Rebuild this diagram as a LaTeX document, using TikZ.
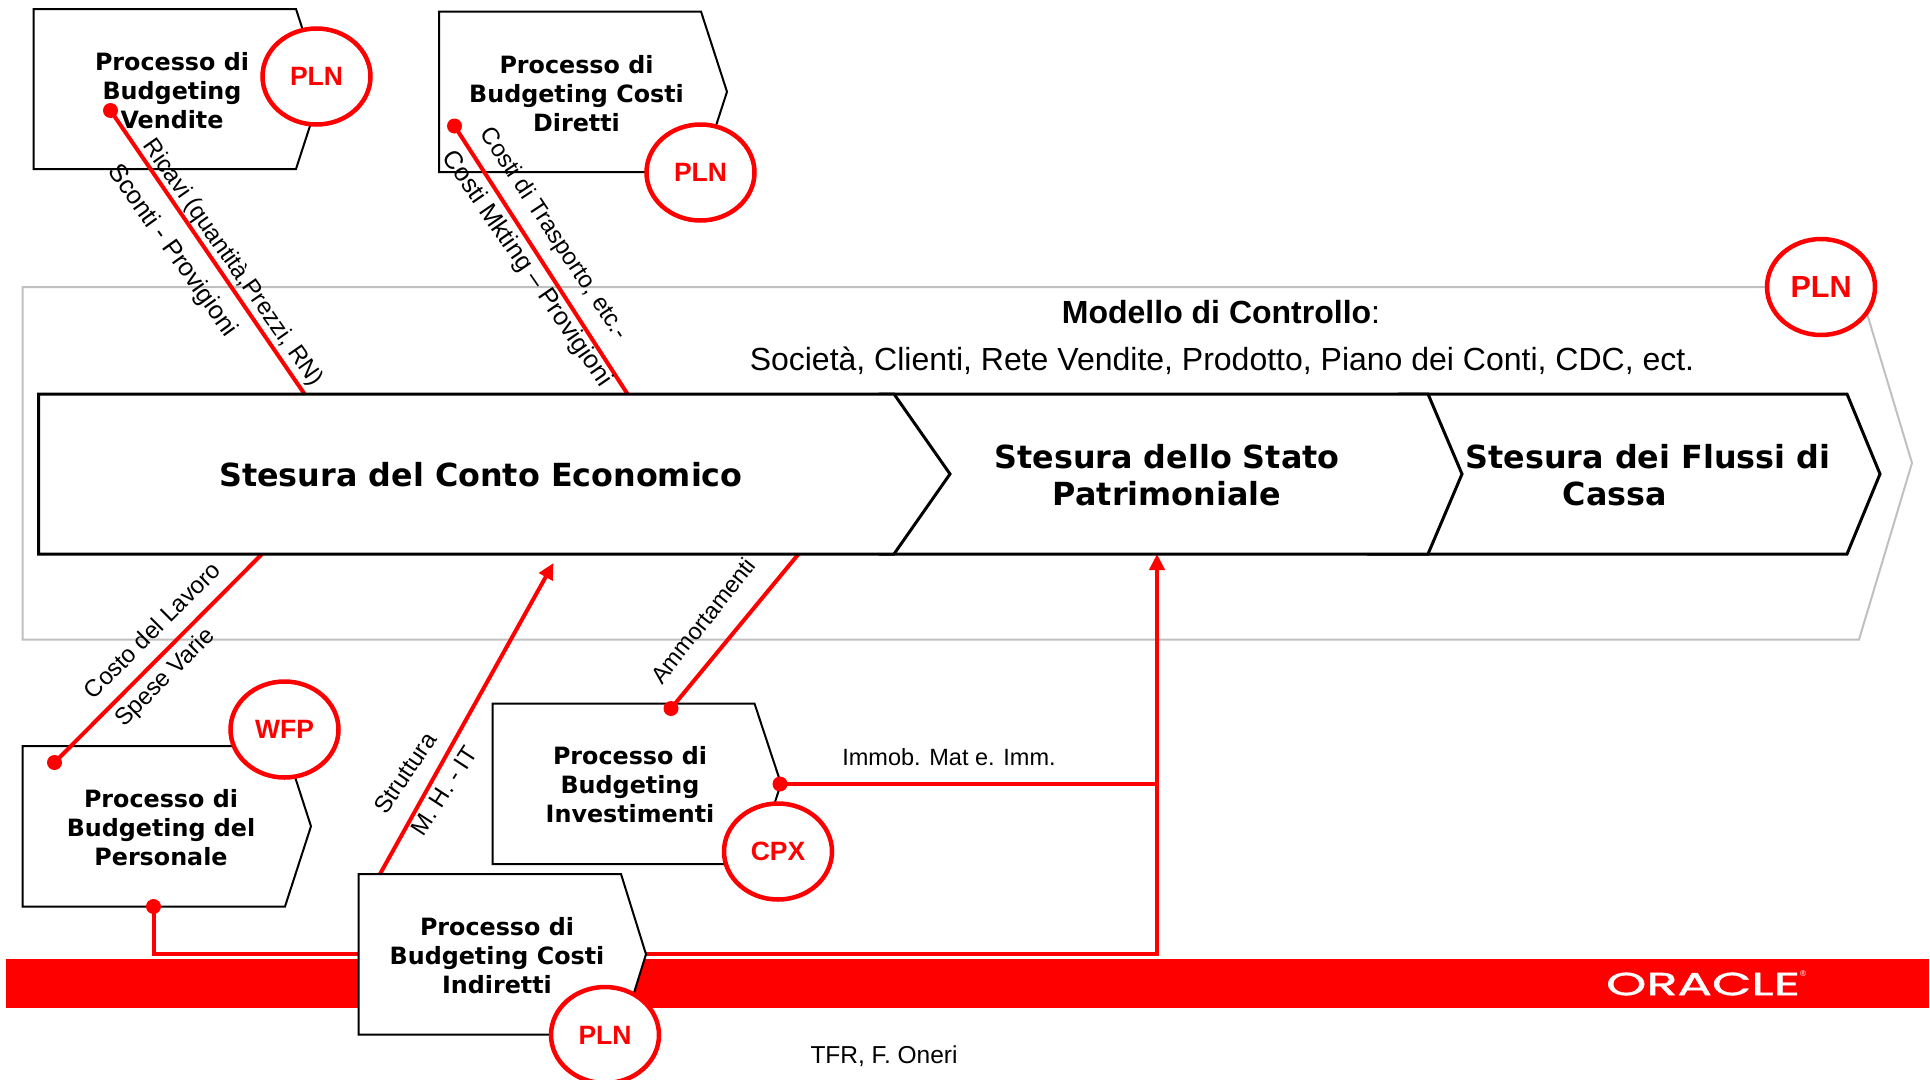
\documentclass[tikz,border=0pt]{standalone}
\usepackage{fontspec}
\setmainfont{Liberation Sans}
\newfontfamily\boxfont{DejaVu Sans}[BoldFont={DejaVu Sans Bold}]
\newfontfamily\logofont{Poppins}[FakeBold=1.2]
\newfontfamily\regfont{DejaVu Sans}
\usetikzlibrary{arrows.meta,shapes.geometric}
\definecolor{ored}{RGB}{255,0,0}
\definecolor{ogray}{RGB}{192,192,192}
\tikzset{
  proc/.style={draw=black,line width=2pt,fill=white,line join=miter},
  main/.style={draw=black,line width=3pt,fill=white,line join=miter},
  proctext/.style={font=\boxfont\bfseries\fontsize{23.8}{29}\selectfont,align=center,inner sep=0pt,text=black},
  maintext/.style={font=\boxfont\bfseries\fontsize{31.8}{37.5}\selectfont,align=center,inner sep=0pt,text=black},
  tag/.style={ellipse,draw=ored,line width=4.5pt,fill=white,inner sep=0pt,minimum width=108pt,minimum height=96pt,text=ored,font=\bfseries\fontsize{26.5}{30}\selectfont},
  bigtag/.style={tag,font=\bfseries\fontsize{30.5}{34}\selectfont},
  dot/.style={circle,fill=ored,inner sep=0pt,minimum size=15pt},
  link/.style={draw=ored,line width=4pt},
  lab/.style={font=\fontsize{24}{28}\selectfont,inner sep=0pt,text=black},
  widelab/.style={lab,font=\fontsize{25.4}{28}\selectfont},
}
\newcommand{\procshape}[5]{% left, top, right shoulder, bottom, tip x
  \draw[proc] (#1,#2) -- (#3,#2) -- (#5,{(#2+#4)/2}) -- (#3,#4) -- (#1,#4) -- cycle;}
\begin{document}
\begin{tikzpicture}[x=1pt,y=-1pt]
\useasboundingbox (0,0) rectangle (1930,1079);
% outer control chevron
\draw[draw=ogray,line width=2pt,fill=white] (22.5,287) -- (1859,287) -- (1912,463) -- (1859,639.5) -- (22.5,639.5) -- cycle;
% red bar
\fill[ored] (6,959) rectangle (1929,1008);
\node[inner sep=0pt,text=white] (oracle) at (1703,984) {\scalebox{1.6}[1]{\logofont\fontsize{32}{32}\selectfont ORACLE}};
\node[inner sep=0pt,text=white,font=\regfont\fontsize{8}{8}\selectfont] (reg) at (1803,974) {®};
% process boxes
\procshape{33.5}{9}{296}{169}{322}
\procshape{439}{11.5}{701}{172}{727}
\procshape{22.5}{746}{285}{906.5}{311}
\procshape{492.5}{703.5}{754.5}{864}{781}
% anchors on the chevron
\coordinate (eA) at (304.5,394);
\coordinate (eB) at (627.5,394);
\coordinate (eC) at (262,554);
\coordinate (eD) at (798.5,554);
\coordinate (eE) at (553.5,563);
\coordinate (eF) at (1157,554);
\coordinate (jn) at (1157,784);
\coordinate (jm) at (1157,954);
% connectors
\node[dot] (d1) at (110.5,110.5) {};
\node[dot] (d2) at (454.5,126) {};
\node[dot] (d3) at (54.5,762.5) {};
\node[dot] (d4) at (153.5,906.5) {};
\node[dot] (d5) at (671,708.5) {};
\node[dot] (d6) at (780,784) {};
\coordinate (s1) at (380,874);
\coordinate (t1) at (646,954);
\coordinate (t0) at (358.5,954);
\draw[link] (d1.center) -- (eA);
\draw[link] (d2.center) -- (eB);
\draw[link] (d3.center) -- (eC);
\draw[link] (d5.center) -- (eD);
\draw[link,-{Triangle[length=16pt,width=15pt]}] (s1) -- (eE);
\draw[link] (d4.center) |- (t0);
\draw[link] (t1) -- (jm) -- (jn) -- (d6.center);
\draw[link,-{Triangle[length=16pt,width=15pt]}] (jn) -- (eF);
% main chevrons
\draw[main] (1400,394) -- (1847,394) -- (1880,474) -- (1847,554) -- (1370,554) -- (1428,474) -- cycle;
\draw[main] (880,394) -- (1428,394) -- (1462,474) -- (1428,554) -- (880,554) -- cycle;
\draw[main] (38.5,394) -- (894,394) -- (950,474) -- (894,554) -- (38.5,554) -- cycle;
\node[maintext] (m1) at (481,475) {Stesura del Conto Economico};
\node[maintext] (m2) at (1167,475) {Stesura dello Stato\\Patrimoniale};
\node[maintext] (m3) at (1648,475) {Stesura dei Flussi di\\Cassa\hspace*{66pt}};
\node[inner sep=0pt,font=\fontsize{32}{36}\selectfont] (mc) at (1221,312) {\textbf{Modello di Controllo}:};
\node[inner sep=0pt,font=\fontsize{32}{36}\selectfont] (dims) at (1222,361) {Società, Clienti, Rete Vendite, Prodotto, Piano dei Conti, CDC, ect.};
% Indiretti box on top of the bar
\procshape{358.5}{874}{621}{1034.5}{646}
% process texts
\node[proctext] (p1) at (172,90.7) {Processo di\\Budgeting\\Vendite};
\node[proctext] (p2) at (576.5,93.5) {Processo di\\Budgeting Costi\\Diretti};
\node[proctext] (p3) at (161,827.6) {Processo di\\Budgeting del\\Personale};
\node[proctext] (p4) at (630,784.5) {Processo di\\Budgeting\\Investimenti};
\node[proctext] (p5) at (497,955.5) {Processo di\\Budgeting Costi\\Indiretti};
% tags
\node[tag] (c1) at (316.5,76.5) {PLN};
\node[tag] (c2) at (700.5,172.5) {PLN};
\node[bigtag] (c3) at (1821,287) {PLN};
\node[tag] (c4) at (284.5,729.5) {WFP};
\node[tag] (c5) at (778,851.5) {CPX};
\node[tag] (c6) at (605,1035) {PLN};
% labels
\node[lab,rotate=-55] (l1) at (232.5,263) {Ricavi (quantità,Prezzi, RN)};
\node[widelab,rotate=-54.5] (l2) at (172,251) {Sconti - Provigioni};
\node[lab,rotate=-56.5] (l3) at (553.5,234) {Costi di Trasporto, etc.-};
\node[widelab,rotate=-55.5] (l4) at (526.5,269) {Costi Mkting – Provigioni};
\node[lab,rotate=45] (l5) at (152,630) {Costo del Lavoro};
\node[lab,rotate=45] (l6) at (165.5,678) {Spese Varie};
\node[lab,rotate=56] (l7) at (405,773) {Struttura};
\node[lab,rotate=57] (l8) at (444,791) {M. H. - IT};
\node[lab,rotate=51.5,font=\fontsize{23.5}{28}\selectfont] (l9) at (703,620.5) {Ammortamenti};
\node[lab,font=\fontsize{23.5}{28}\selectfont] (l10) at (949,757) {Immob. Mat e. Imm.};
\node[lab,font=\fontsize{24.5}{28}\selectfont] (foot) at (884,1056.5) {TFR, F. Oneri};
\end{tikzpicture}
\end{document}
